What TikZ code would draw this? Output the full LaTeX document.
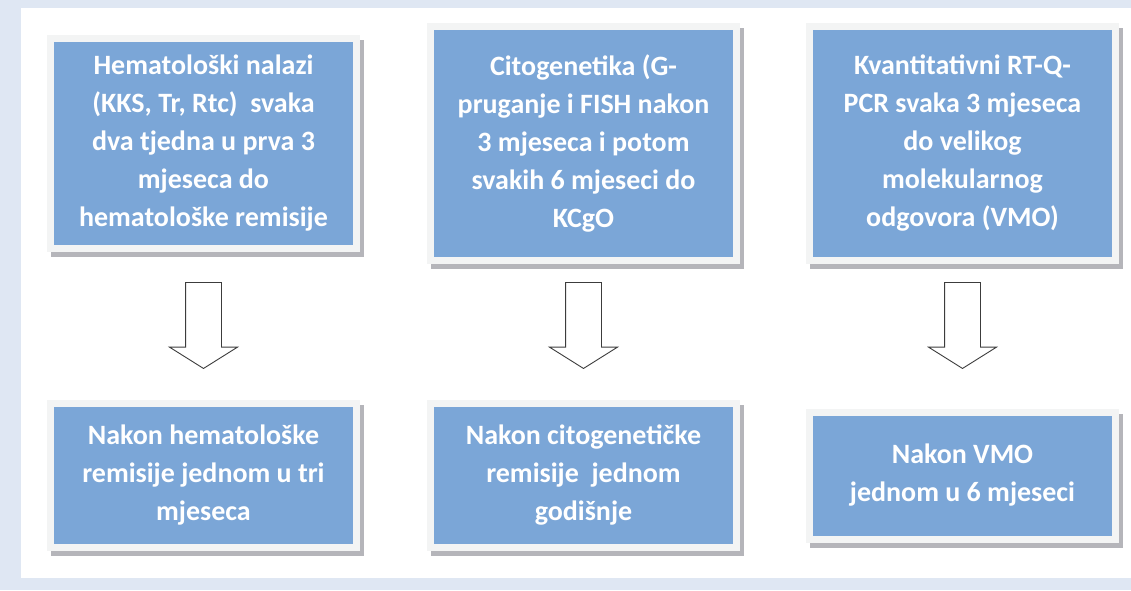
\documentclass[tikz,border=0pt]{standalone}
\usepackage{fontspec}
\setmainfont{Carlito}
\usetikzlibrary{positioning, shapes.arrows, shadows}

\definecolor{boxblue}{RGB}{123,166,215}
\definecolor{framegray}{RGB}{243,244,244}
\definecolor{shadowgray}{RGB}{181,181,186}
\definecolor{bgblue}{RGB}{223,231,243}
\definecolor{arrowgray}{RGB}{60,60,60}

\begin{document}
\begin{tikzpicture}[
			x = 1pt, y = -1pt,
			nodes = {
				align = center
			},
			block/.style={
				rectangle,
				fill=boxblue,
				draw=framegray,
				line width=7pt,
				minimum width=306pt,
				inner sep=0pt,
				text=white,
				font=\fontsize{28}{38}\selectfont\bfseries,
				drop shadow={shadow xshift=4pt, shadow yshift=-5pt, fill=shadowgray, draw=shadowgray, line width=7pt, opacity=1}
			},
			down/.style={
				single arrow,
				draw=arrowgray,
				fill=white,
				line width=0.9pt,
				inner sep=17.5pt,
				minimum width=67pt,
				minimum height=86pt,
				single arrow head extend=16pt,
				single arrow tip angle=115.8,
				anchor=tail,
				rotate=-90
			}
		]
			\fill[bgblue] (0,0) rectangle (1131,590);
			\fill[white] (21,8) rectangle (1131,578);

			\node[block, minimum height=210pt] (h1) at (203.5,143.5) {Hematološki nalazi\\(KKS, Tr, Rtc)\ \ svaka\\dva tjedna u prva 3\\mjeseca do\\hematološke remisije};
			\node[block, minimum height=234pt] (c1) [right=67pt of h1] {Citogenetika (G-\\pruganje i FISH nakon\\3 mjeseca i potom\\svakih 6 mjeseci do\\KCgO};
			\node[block, minimum height=234pt] (q1) [right=66pt of c1] {Kvantitativni RT-Q-\\PCR svaka 3 mjeseca\\do velikog\\molekularnog\\odgovora (VMO)};

			\node[block, minimum height=144pt] (h2) at (203.5,475.5) {Nakon hematološke\\remisije jednom u tri\\mjeseca};
			\node[block, minimum height=144pt] (c2) [right=67pt of h2] {Nakon citogenetičke\\remisije\ \ jednom\\godišnje};
			\node[block, minimum height=127pt] (q2) [right=66pt of c2] {Nakon VMO\\jednom u 6 mjeseci};

			\coordinate (top) at (0,282);

			\node[down] (a1) at (h1 |- top) {};
			\node[down] (a2) at (c1 |- top) {};
			\node[down] (a3) at (q1 |- top) {};

		\end{tikzpicture}
\end{document}
